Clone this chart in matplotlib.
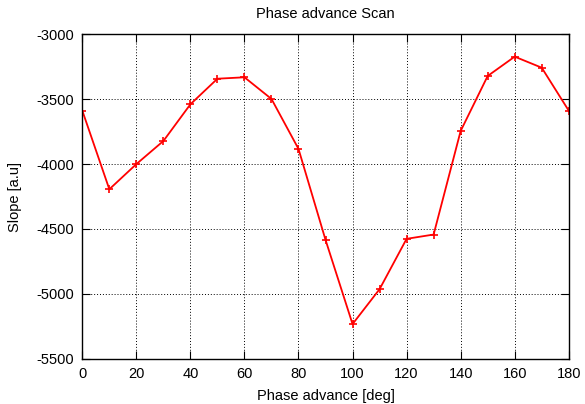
import matplotlib
matplotlib.use("Agg")
import matplotlib.pyplot as plt

phase = [0, 10, 20, 30, 40, 50, 60, 70, 80, 90, 100, 110, 120, 130, 140, 150, 160, 170, 180]
slope = [-3588, -4194, -4000, -3822, -3539, -3342, -3331, -3498, -3883, -4584,
         -5233, -4964, -4576, -4543, -3745, -3321, -3172, -3257, -3588]
xticks = [0, 20, 40, 60, 80, 100, 120, 140, 160, 180]
yticks = [-5500, -5000, -4500, -4000, -3500, -3000]

plt.rcParams['font.family'] = ['Liberation Sans', 'DejaVu Sans']
plt.rcParams['axes.unicode_minus'] = False
fig = plt.figure(figsize=(5.85, 4.04), dpi=100)
ax = fig.add_axes([0.1407, 0.1121, 0.9722 - 0.1407, 0.915 - 0.1121])
ax.plot(phase, slope, color='red', lw=1.3, marker='+', ms=6, mew=1.2)
ax.set_xlim(0, 180)
ax.set_ylim(-5500, -3000)
ax.set_xticks(xticks)
ax.set_yticks(yticks)
ax.grid(True, color='black', linestyle=(0, (1, 2)), lw=0.7)
ax.tick_params(direction='in', top=True, right=True, labelsize=10.5, length=6, pad=6)
for s in ax.spines.values():
    s.set_linewidth(1.0)
ax.set_xlabel('Phase advance [deg]', fontsize=10.5, labelpad=6)
ax.set_ylabel('Slope [a.u]', fontsize=10.5, labelpad=10)
ax.set_title('Phase advance Scan', fontsize=10.5, pad=12)
fig.savefig('out.png', dpi=100)
